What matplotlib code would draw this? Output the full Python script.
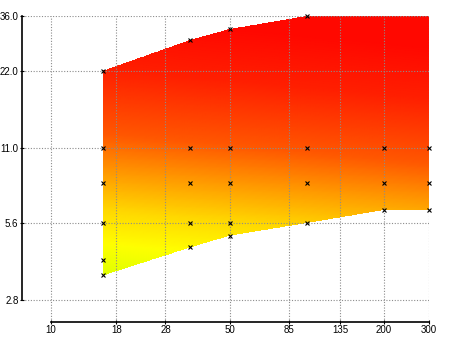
import numpy as np
import matplotlib
matplotlib.use("Agg")
import matplotlib.pyplot as plt
from matplotlib.colors import LinearSegmentedColormap
from matplotlib.patches import Polygon
from matplotlib.ticker import FixedLocator, FixedFormatter, NullLocator

# ---- data ----
x_edge = [16, 35, 50, 100, 200, 300]
upper = [22, 29, 32, 36, 36, 36]
lower = [3.5, 4.5, 5.0, 5.6, 6.3, 6.3]

pts_x = [16, 16, 16, 16, 16, 16,
         35, 35, 35, 35, 35,
         50, 50, 50, 50, 50,
         100, 100, 100, 100,
         200, 200, 200,
         300, 300, 300]
pts_y = [22, 11, 8, 5.6, 4.0, 3.5,
         29, 11, 8, 5.6, 4.5,
         32, 11, 8, 5.6, 5.0,
         36, 11, 8, 5.6,
         11, 8, 6.3,
         11, 8, 6.3]

x_ticks = [10, 18, 28, 50, 85, 135, 200, 300]
x_labels = ["10", "18", "28", "50", "85", "135", "200", "300"]
y_ticks = [2.8, 5.6, 11.0, 22.0, 36.0]
y_labels = ["2.8", "5.6", "11.0", "22.0", "36.0"]

plt.rcParams['font.family'] = ['Liberation Sans', 'DejaVu Sans']

fig = plt.figure(figsize=(4.5, 3.37), dpi=100)
ax = fig.add_axes([22/450, 15/337, 407/450, 306/337])
ax.set_xscale('log')
ax.set_yscale('log')
ax.set_xlim(7.70, 300)
ax.set_ylim(2.298, 36)

# polygon of the band (interpolated in log-log)
lx = np.log10(x_edge)
xs = np.logspace(lx[0], lx[-1], 300)
up = 10 ** np.interp(np.log10(xs), lx, np.log10(upper))
lo = 10 ** np.interp(np.log10(xs), lx, np.log10(lower))
poly_xy = np.concatenate([np.column_stack([xs, lo]), np.column_stack([xs[::-1], up[::-1]])])
poly = Polygon(poly_xy, closed=True, facecolor='none', edgecolor='none', transform=ax.transData)
ax.add_patch(poly)

# gradient
cmap = LinearSegmentedColormap.from_list('band', [
    (0.00, (0.88, 1.00, 0.00)),
    (0.12, (1.00, 1.00, 0.00)),
    (0.25, (1.00, 0.85, 0.00)),
    (0.40, (1.00, 0.60, 0.00)),
    (0.55, (1.00, 0.34, 0.00)),
    (0.80, (1.00, 0.12, 0.00)),
    (1.00, (1.00, 0.03, 0.00)),
])
gx = np.logspace(np.log10(16), np.log10(300), 200)
gy = np.logspace(np.log10(3.4), np.log10(37), 300)
GX, GY = np.meshgrid(gx, gy)
V = (np.log10(GY) + 0.09 * (np.log10(GX) - np.log10(16)) - np.log10(3.5)) / (np.log10(36) - np.log10(3.5))
mesh = ax.pcolormesh(GX, GY, V, cmap=cmap, vmin=0, vmax=1, shading='gouraud', zorder=1)
mesh.set_clip_path(poly)

# markers
ax.plot(pts_x, pts_y, linestyle='none', marker='x', color='black', markersize=2.6, mew=0.8, zorder=4, clip_on=False)

# ticks and grid
ax.xaxis.set_major_locator(FixedLocator(x_ticks))
ax.xaxis.set_major_formatter(FixedFormatter(x_labels))
ax.yaxis.set_major_locator(FixedLocator(y_ticks))
ax.yaxis.set_major_formatter(FixedFormatter(y_labels))
ax.xaxis.set_minor_locator(NullLocator())
ax.yaxis.set_minor_locator(NullLocator())
ax.grid(True, color='#8c8c8c', linestyle=(0, (1, 1.5)), linewidth=0.8, zorder=3)
ax.set_axisbelow(False)
ax.tick_params(axis='both', which='major', direction='inout', length=3, width=0.8, labelsize=7, pad=1, colors='black')

for s in ['top', 'right']:
    ax.spines[s].set_visible(False)
ax.spines['left'].set_bounds(2.8, 36)
ax.spines['bottom'].set_bounds(10, 300)
ax.spines['left'].set_linewidth(1.2)
ax.spines['bottom'].set_linewidth(1.2)

fig.savefig('out.png', dpi=100)
